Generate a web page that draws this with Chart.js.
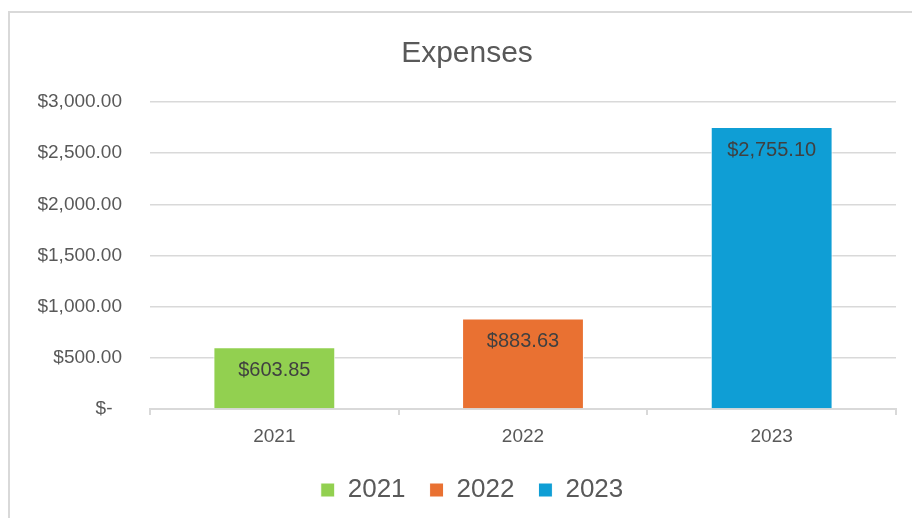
<!DOCTYPE html>
<html>
<head>
<meta charset="utf-8">
<script src="https://cdn.jsdelivr.net/npm/chart.js@4"></script>
<style>
  body { margin: 0; background: #fff; }
  #wrap { position: relative; width: 912px; height: 518px; overflow: hidden; }
  #frame { position: absolute; left: 8px; top: 11px; width: 960px; height: 560px; border: 2px solid #d9d9d9; }
  #wrap canvas { position: absolute; left: 0; top: 0; }
</style>
</head>
<body>
<div id="wrap">
  <div id="frame"></div>
  <canvas id="expenses-bar"></canvas>
</div>
<script>
// chart values
var categories = ['2021', '2022', '2023'];
var expenses = [603.85, 883.63, 2755.10];
var barColors = ['#92D050', '#E97132', '#0F9ED5'];
var yTickStep = 500;
var yMax = 3000;

var fontFamily = '"Liberation Sans", Arial, Helvetica, sans-serif';

function money(v) {
  if (v === 0) return '$-\u2002';
  return '$' + v.toLocaleString('en-US', { minimumFractionDigits: 2, maximumFractionDigits: 2 });
}

// one dataset per year so the legend shows each year
var datasets = categories.map(function (c, i) {
  return {
    label: c,
    data: categories.map(function (_, j) { return j === i ? expenses[i] : null; }),
    backgroundColor: barColors[i],
    borderColor: '#ffffff',
    borderWidth: 1
  };
});

// draw the value near the top of each bar
var valueLabels = {
  id: 'valueLabels',
  afterLayout: function (chart) {
    // nudge the legend a little to the right, like the original
    chart.legend.left += 10;
  },
  afterDatasetsDraw: function (chart) {
    var ctx = chart.ctx;
    ctx.save();
    ctx.font = '20px ' + fontFamily;
    ctx.fillStyle = '#404040';
    ctx.textAlign = 'center';
    ctx.textBaseline = 'middle';
    chart.data.datasets.forEach(function (ds, i) {
      var meta = chart.getDatasetMeta(i);
      meta.data.forEach(function (bar, j) {
        var v = ds.data[j];
        if (v === null) return;
        ctx.fillText(money(v), bar.x, bar.y + 23);
      });
    });
    ctx.restore();
  }
};

var ctx = document.getElementById('expenses-bar');
var myChart = new Chart(ctx, {
  type: 'bar',
  data: {
    labels: categories,
    datasets: datasets
  },
  options: {
    responsive: true,
    maintainAspectRatio: false,
    animation: false,
    grouped: false,
    categoryPercentage: 1,
    barPercentage: 0.49,
    layout: { padding: { top: 12, right: 16, bottom: 5, left: 38 } },
    plugins: {
      title: {
        display: true,
        text: 'Expenses',
        color: '#595959',
        font: { family: fontFamily, size: 30, weight: 'normal' },
        padding: { top: 24, bottom: 30 }
      },
      legend: {
        position: 'bottom',
        labels: {
          color: '#595959',
          font: { family: fontFamily, size: 26 },
          boxWidth: 14,
          boxHeight: 14,
          padding: 24
        }
      },
      tooltip: { enabled: false }
    },
    scales: {
      x: {
        offset: true,
        afterFit: function (scale) { scale.height = 44; },
        grid: {
          offset: true,
          drawOnChartArea: false,
          drawTicks: true,
          tickLength: 6,
          color: '#d9d9d9',
          lineWidth: 2
        },
        border: { color: '#d9d9d9', width: 2 },
        ticks: {
          color: '#595959',
          font: { family: fontFamily, size: 19 },
          padding: 10
        }
      },
      y: {
        min: 0,
        max: yMax,
        afterFit: function (scale) { scale.width = 112; },
        grid: {
          drawTicks: false,
          color: '#d9d9d9',
          lineWidth: 1.5
        },
        border: { display: false },
        ticks: {
          stepSize: yTickStep,
          color: '#595959',
          font: { family: fontFamily, size: 19 },
          padding: 28,
          callback: function (v) { return money(v); }
        }
      }
    }
  },
  plugins: [valueLabels]
});
</script>
</body>
</html>
